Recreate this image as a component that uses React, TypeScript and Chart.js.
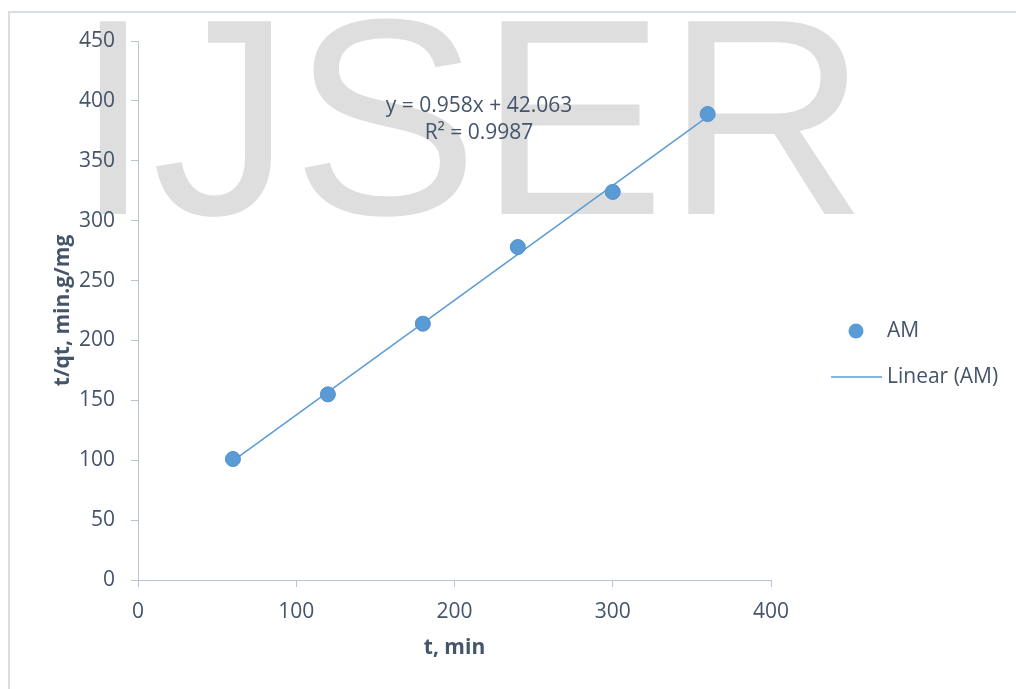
import React, { useEffect, useRef } from "react";
import { Chart, registerables } from "chart.js";

Chart.register(...registerables);

// Kinetic data: time (min) vs t/qt (min·g/mg)
const timeMin = [60, 120, 180, 240, 300, 360];
const tOverQt = [101, 155, 214, 278, 324, 389];

// Linear trendline reported for the series
const trendSlope = 0.958;
const trendIntercept = 42.063;
const trendR2 = 0.9987;

const xMin = 0;
const xMax = 400;
const xStep = 100;
const yMin = 0;
const yMax = 450;
const yStep = 50;

const seriesName = "AM";
const trendName = "Linear (AM)";
const xTitle = "t, min";
const yTitle = "t/qt, min.g/mg";
const watermark = "IJSER";

const FONT = '"Open Sans", "Liberation Sans", sans-serif';
const TEXT = "#44546a";
const AXIS = "#b9c3d2";
const BLUE = "#5b9bd5";

const decorPlugin = {
  id: "decor",
  beforeDraw(chart: any) {
    const ctx = chart.ctx as CanvasRenderingContext2D;
    ctx.save();
    // outer frame (left and top edges)
    ctx.strokeStyle = "#d9dee5";
    ctx.lineWidth = 2;
    ctx.beginPath();
    ctx.moveTo(1, chart.height);
    ctx.lineTo(1, 4);
    ctx.lineTo(chart.width, 4);
    ctx.stroke();
    // watermark behind the plot, kept below the frame
    ctx.beginPath();
    ctx.rect(2, 6, chart.width, chart.height);
    ctx.clip();
    ctx.font = '280px "Liberation Sans", Arial, sans-serif';
    ctx.fillStyle = "#dedede";
    ctx.textBaseline = "alphabetic";
    ctx.textAlign = "left";
    ctx.fillText(watermark, 66, 206);
    ctx.restore();
  },
  afterDraw(chart: any) {
    const ctx = chart.ctx as CanvasRenderingContext2D;
    ctx.save();
    // trendline equation
    ctx.font = `21px ${FONT}`;
    ctx.fillStyle = TEXT;
    ctx.textAlign = "center";
    ctx.textBaseline = "middle";
    const sign = trendIntercept >= 0 ? "+" : "-";
    ctx.fillText(
      `y = ${trendSlope}x ${sign} ${Math.abs(trendIntercept).toFixed(3)}`,
      471,
      98
    );
    ctx.fillText(`R² = ${trendR2}`, 471, 125);

    // legend
    ctx.textAlign = "left";
    ctx.beginPath();
    ctx.arc(848, 323, 7.5, 0, Math.PI * 2);
    ctx.fillStyle = BLUE;
    ctx.fill();
    ctx.fillStyle = TEXT;
    ctx.fillText(seriesName, 879, 323);

    ctx.strokeStyle = BLUE;
    ctx.lineWidth = 1.5;
    ctx.beginPath();
    ctx.moveTo(823, 369);
    ctx.lineTo(874, 369);
    ctx.stroke();
    ctx.fillText(trendName, 879, 369);
    ctx.restore();
  },
};

export default function App() {
  const canvasRef = useRef<HTMLCanvasElement | null>(null);

  useEffect(() => {
    if (!canvasRef.current) return;
    const points = timeMin.map((x, i) => ({ x, y: tOverQt[i] }));
    const x0 = timeMin[0];
    const x1 = timeMin[timeMin.length - 1];
    const trend = [
      { x: x0, y: trendSlope * x0 + trendIntercept },
      { x: x1, y: trendSlope * x1 + trendIntercept },
    ];

    const chart = new Chart(canvasRef.current, {
      type: "scatter",
      data: {
        datasets: [
          {
            label: trendName,
            type: "line",
            data: trend,
            borderColor: BLUE,
            borderWidth: 1.5,
            pointRadius: 0,
            fill: false,
            order: 2,
          } as any,
          {
            label: seriesName,
            data: points,
            backgroundColor: BLUE,
            borderColor: "#4f8fcb",
            borderWidth: 1,
            pointRadius: 7.5,
            order: 1,
          },
        ],
      },
      options: {
        animation: false,
        responsive: true,
        maintainAspectRatio: false,
        layout: { padding: { top: 33, right: 245, bottom: 0, left: 0 } },
        plugins: {
          legend: { display: false },
          tooltip: { enabled: false },
        },
        scales: {
          x: {
            type: "linear",
            min: xMin,
            max: xMax,
            offset: false,
            ticks: {
              stepSize: xStep,
              padding: 12,
              color: TEXT,
              font: { family: FONT, size: 21 },
            },
            grid: {
              drawOnChartArea: false,
              drawTicks: true,
              tickLength: 7,
              color: AXIS,
            },
            border: { display: true, color: AXIS, width: 1 },
            title: {
              display: true,
              text: xTitle,
              color: TEXT,
              font: { family: FONT, size: 21, weight: "bold" },
              padding: { top: 0, bottom: 28 },
            },
            afterFit(scale: any) {
              scale.height = 109;
            },
          },
          y: {
            type: "linear",
            min: yMin,
            max: yMax,
            ticks: {
              stepSize: yStep,
              padding: 16,
              color: TEXT,
              font: { family: FONT, size: 21 },
            },
            grid: {
              drawOnChartArea: false,
              drawTicks: true,
              tickLength: 7,
              color: AXIS,
            },
            border: { display: true, color: AXIS, width: 1 },
            title: {
              display: true,
              text: yTitle,
              color: TEXT,
              font: { family: FONT, size: 21, weight: "bold" },
              padding: { top: 42, bottom: 0 },
            },
            afterFit(scale: any) {
              scale.width = 130;
            },
          },
        },
      },
      plugins: [decorPlugin],
    });

    return () => chart.destroy();
  }, []);

  return (
    <div
      style={{
        position: "absolute",
        left: 8,
        top: 8,
        width: 1008,
        height: 681,
      }}
    >
      <canvas ref={canvasRef} />
    </div>
  );
}
